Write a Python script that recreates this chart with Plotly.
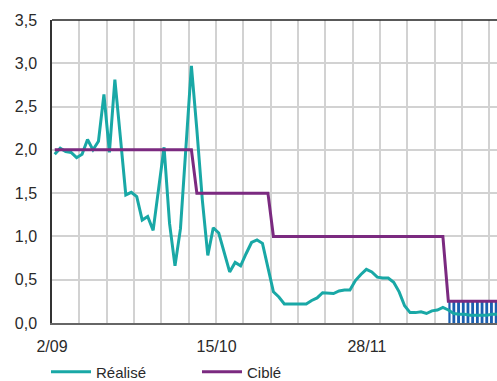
import plotly.graph_objects as go

# ---- data ----
realise = [1.95, 2.02, 1.98, 1.97, 1.91, 1.95, 2.12, 2.00, 2.10, 2.64,
           1.97, 2.81, 2.15, 1.48, 1.51, 1.46, 1.19, 1.23, 1.07, 1.55,
           2.03, 1.15, 0.66, 1.09, 1.98, 2.97, 2.23, 1.42, 0.78, 1.10,
           1.04, 0.82, 0.59, 0.70, 0.66, 0.80, 0.93, 0.96, 0.92, 0.64,
           0.36, 0.30, 0.22, 0.22, 0.22, 0.22, 0.22, 0.26, 0.29, 0.35,
           0.345, 0.34, 0.37, 0.38, 0.38, 0.49, 0.56, 0.62, 0.59, 0.53,
           0.52, 0.52, 0.47, 0.36, 0.20, 0.12, 0.12, 0.13, 0.11, 0.14,
           0.15, 0.18, 0.15, 0.11, 0.10, 0.10, 0.09, 0.09, 0.09, 0.09,
           0.10, 0.10]

cible = [2.0, 2.0, 2.0, 2.0, 2.0, 2.0, 2.0, 2.0, 2.0, 2.0,
         2.0, 2.0, 2.0, 2.0, 2.0, 2.0, 2.0, 2.0, 2.0, 2.0,
         2.0, 2.0, 2.0, 2.0, 2.0, 2.0, 1.5, 1.5, 1.5, 1.5,
         1.5, 1.5, 1.5, 1.5, 1.5, 1.5, 1.5, 1.5, 1.5, 1.5,
         1.0, 1.0, 1.0, 1.0, 1.0, 1.0, 1.0, 1.0, 1.0, 1.0,
         1.0, 1.0, 1.0, 1.0, 1.0, 1.0, 1.0, 1.0, 1.0, 1.0,
         1.0, 1.0, 1.0, 1.0, 1.0, 1.0, 1.0, 1.0, 1.0, 1.0,
         1.0, 1.0, 0.25, 0.25, 0.25, 0.25, 0.25, 0.25, 0.25, 0.25,
         0.25, 0.25]

# hatched (projected) target zone, last categories
projete_debut = 72
projete = [0.25, 0.25, 0.25, 0.25, 0.25, 0.25, 0.25, 0.25, 0.25, 0.25]

tick_labels = ["2/09", "15/10", "28/11"]
tick_positions = [-0.5, 29.6, 57.1]

x = list(range(len(realise)))
x_proj = list(range(projete_debut, projete_debut + len(projete)))

TEAL = "#19a8a6"
PURPLE = "#7b2a80"
BLUE = "#1a5fb0"
TXT = "#2a2a2a"
FONT = "Liberation Sans, Arial, sans-serif"

fig = go.Figure()

fig.add_trace(go.Scatter(
    x=x_proj, y=projete, mode="lines", line=dict(width=0, color=BLUE),
    fill="tozeroy", fillcolor="white",
    fillpattern=dict(shape="|", fgcolor=BLUE, fgopacity=1, bgcolor="white",
                     size=4.7, solidity=0.6),
    showlegend=False, hoverinfo="skip"))

fig.add_trace(go.Scatter(
    x=x, y=realise, mode="lines", name="Réalisé",
    line=dict(color=TEAL, width=3)))

fig.add_trace(go.Scatter(
    x=x, y=cible, mode="lines", name="Ciblé",
    line=dict(color=PURPLE, width=3)))

fig.update_layout(
    width=497, height=381,
    margin=dict(l=52, r=0, t=20, b=58, autoexpand=False),
    paper_bgcolor="white", plot_bgcolor="white",
    separators=", ",
    font=dict(family=FONT, size=16, color=TXT),
    showlegend=True,
    legend=dict(orientation="h", x=-0.0135, xanchor="left", y=-0.162, yanchor="middle",
                font=dict(size=15, color=TXT), itemwidth=40, entrywidth=96,
                bgcolor="rgba(0,0,0,0)"),
    shapes=[dict(type="line", xref="paper", yref="paper", x0=0, x1=1, y0=1, y1=1,
                 line=dict(color="#222222", width=1.5), layer="above")],
)

fig.update_xaxes(
    range=[-0.5, 80.9], automargin=False,
    tickmode="array", tickvals=tick_positions, ticktext=tick_labels,
    showgrid=False, zeroline=False,
    showline=True, linecolor="#666666", linewidth=2,
    ticks="", ticklabelstandoff=8,
    tickfont=dict(size=16, color=TXT),
    minor=dict(tick0=-0.5, dtick=5, showgrid=True, gridcolor="#d2d2d2", gridwidth=1.5),
    layer="above traces",
)

fig.update_yaxes(
    range=[0, 3.5], dtick=0.5, tick0=0, tickformat=".1f", automargin=False,
    showgrid=True, gridcolor="#d2d2d2", gridwidth=1.5,
    zeroline=False,
    showline=True, linecolor="#333333", linewidth=1.5,
    ticks="", ticklabelstandoff=10,
    tickfont=dict(size=16, color=TXT),
)

fig.write_html(
    "out.html",
    config={"displayModeBar": False},
    post_script="document.body.style.margin='0px';document.body.style.overflow='hidden';",
)
